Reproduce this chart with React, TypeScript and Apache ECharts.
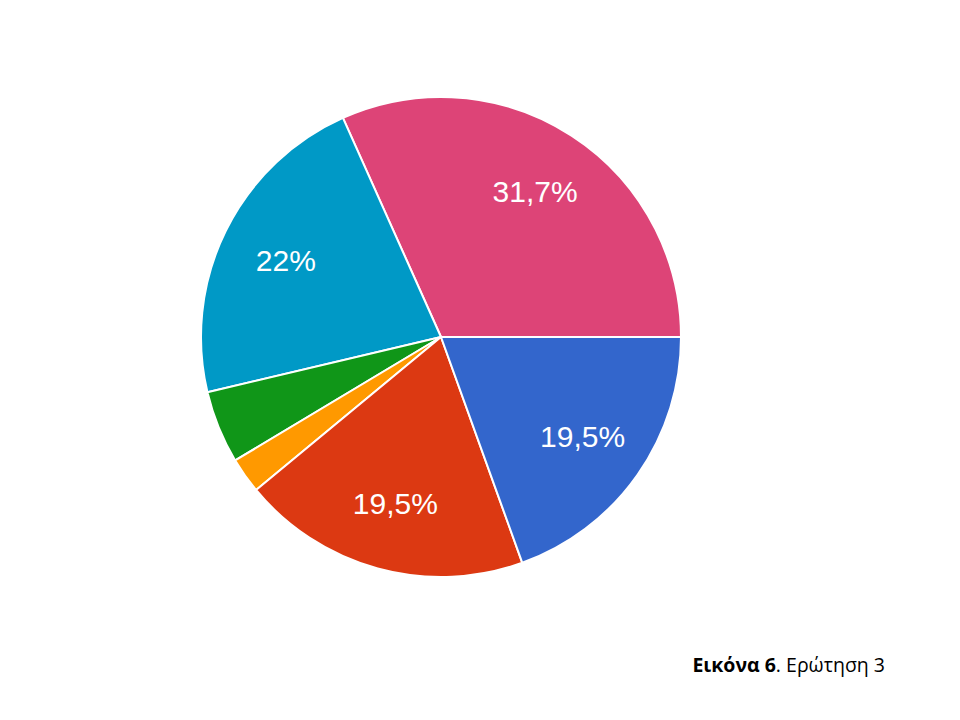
import React, { useEffect, useRef } from "react";
import * as echarts from "echarts";

const categories = ["A", "B", "C", "D", "E", "F"];
const values = [31.7, 22, 4.9, 2.4, 19.5, 19.5];
const labels = ["31,7%", "22%", "", "", "19,5%", "19,5%"];
const colors = ["#dd4477", "#0099c6", "#109618", "#ff9900", "#dc3912", "#3366cc"];

export default function App() {
  const ref = useRef<HTMLDivElement>(null);
  useEffect(() => {
    if (!ref.current) return;
    const chart = echarts.init(ref.current, undefined, { renderer: "svg" });
    const data = categories.map((c, i) => ({
      name: c,
      value: values[i],
      itemStyle: { color: colors[i] },
    }));
    chart.setOption({
      animation: false,
      series: [
        {
          type: "pie",
          center: [441, 337],
          radius: [0, 240],
          startAngle: 0,
          clockwise: false,
          silent: true,
          itemStyle: { borderColor: "#ffffff", borderWidth: 2 },
          label: { show: false },
          labelLine: { show: false },
          data,
        },
        {
          type: "pie",
          center: [441, 337],
          radius: [0, 340],
          startAngle: 0,
          clockwise: false,
          silent: true,
          itemStyle: { color: "transparent", borderWidth: 0 },
          label: {
            show: true,
            position: "inside",
            color: "#ffffff",
            fontFamily: "Liberation Sans, Arial, sans-serif",
            fontSize: 30,
            formatter: (p: any) => labels[p.dataIndex],
          },
          labelLine: { show: false },
          data: categories.map((c, i) => ({ name: c, value: values[i] })),
        },
      ],
      graphic: [
        {
          type: "text",
          right: 75,
          top: 654,
          style: {
            rich: {
              b: { fontWeight: "bold", fontSize: 19.5, fontFamily: "Open Sans, sans-serif", fill: "#000" },
              n: { fontSize: 19.5, fontFamily: "Open Sans, sans-serif", fill: "#000" },
            },
            text: "{b|Εικόνα 6}{n|. Ερώτηση 3}",
          },
        },
      ],
    });
    return () => chart.dispose();
  }, []);
  return <div ref={ref} style={{ width: 960, height: 720, position: "absolute", left: 0, top: 0 }} />;
}
